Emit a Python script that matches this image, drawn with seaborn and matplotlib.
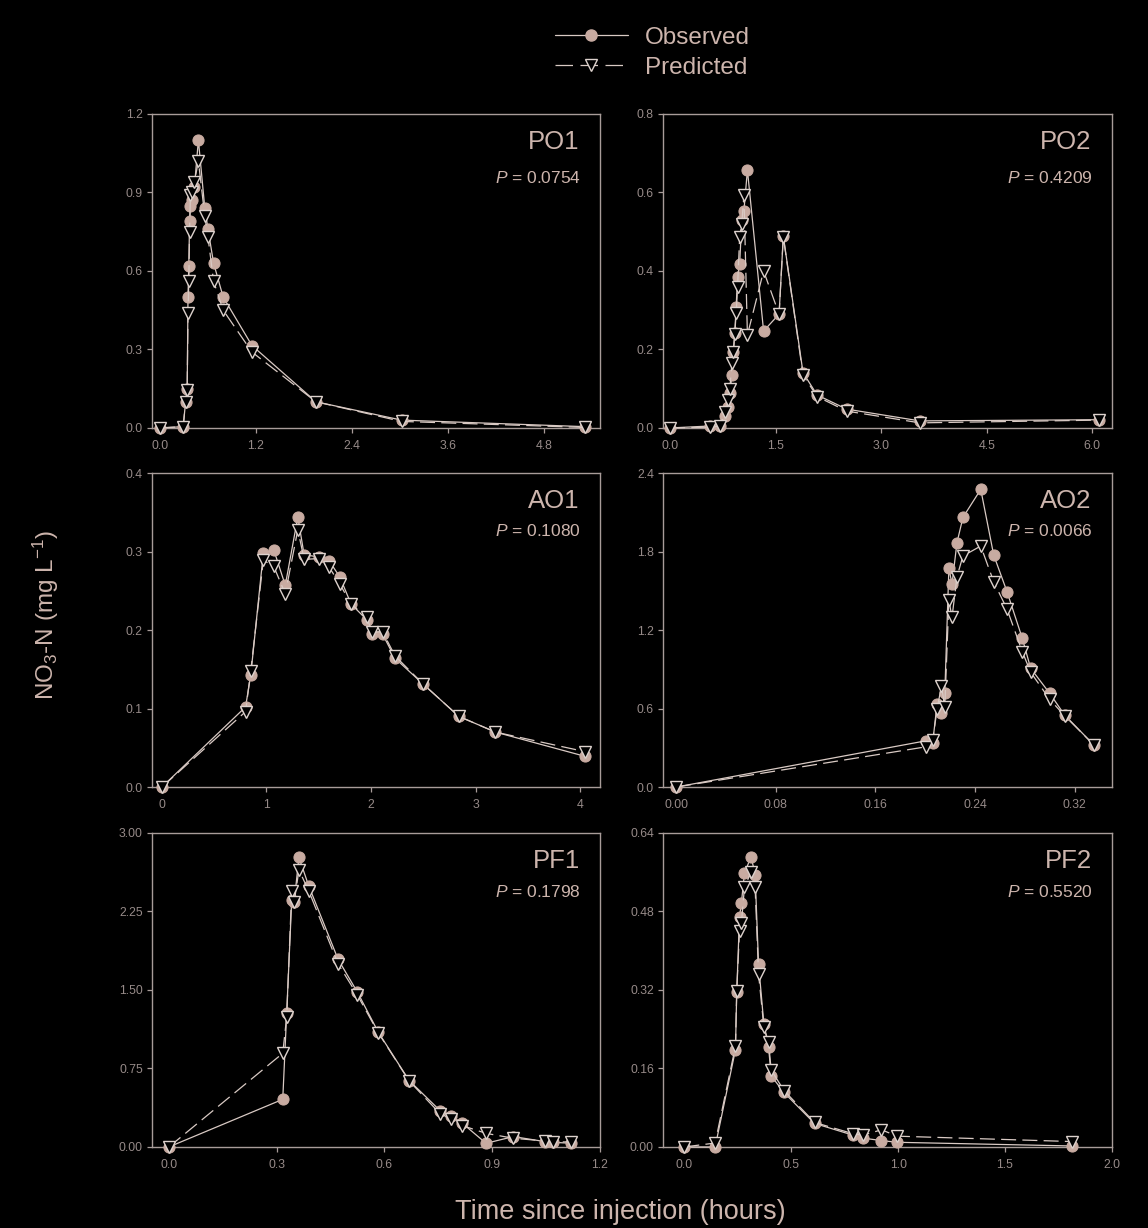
import numpy as np
import pandas as pd
import seaborn as sns
import matplotlib.pyplot as plt
from matplotlib.lines import Line2D
from matplotlib.ticker import FormatStrFormatter

# values (time in hours, NO3-N in mg/L)
po1_t = [0, 0.29, 0.32, 0.34, 0.35, 0.36, 0.37, 0.38, 0.40, 0.43, 0.48, 0.56, 0.60, 0.67, 0.79, 1.15, 1.95, 3.02, 5.31]
po1_obs = [0, 0.005, 0.10, 0.15, 0.50, 0.62, 0.79, 0.85, 0.87, 0.92, 1.10, 0.84, 0.76, 0.63, 0.50, 0.315, 0.10, 0.03, 0.005]
po1_pred = [0, 0.005, 0.10, 0.145, 0.44, 0.56, 0.75, 0.89, 0.90, 0.94, 1.02, 0.81, 0.73, 0.56, 0.45, 0.29, 0.10, 0.025, 0.002]

po2_t = [0, 0.57, 0.71, 0.78, 0.83, 0.85, 0.88, 0.90, 0.92, 0.94, 0.96, 0.99, 1.02, 1.05, 1.10, 1.33, 1.55, 1.61, 1.89, 2.09, 2.51, 3.55, 6.10]
po2_obs = [0, 0.005, 0.005, 0.03, 0.054, 0.088, 0.135, 0.194, 0.241, 0.309, 0.385, 0.418, 0.53, 0.553, 0.657, 0.247, 0.29, 0.489, 0.141, 0.084, 0.048, 0.018, 0.021]
po2_pred = [0, 0.002, 0.005, 0.04, 0.07, 0.10, 0.166, 0.194, 0.24, 0.292, 0.36, 0.487, 0.52, 0.594, 0.237, 0.40, 0.29, 0.487, 0.135, 0.08, 0.043, 0.013, 0.02]

ao1_t = [0, 0.80, 0.85, 0.97, 1.07, 1.18, 1.30, 1.36, 1.50, 1.60, 1.70, 1.81, 1.96, 2.01, 2.11, 2.23, 2.50, 2.84, 3.19, 4.05]
ao1_obs = [0, 0.102, 0.143, 0.298, 0.302, 0.257, 0.344, 0.296, 0.293, 0.288, 0.268, 0.233, 0.213, 0.195, 0.195, 0.164, 0.131, 0.09, 0.07, 0.039]
ao1_pred = [0, 0.096, 0.148, 0.289, 0.281, 0.246, 0.328, 0.290, 0.291, 0.280, 0.259, 0.233, 0.216, 0.197, 0.198, 0.167, 0.131, 0.09, 0.07, 0.045]

ao2_t = [0, 0.201, 0.206, 0.2095, 0.213, 0.2157, 0.219, 0.2215, 0.2255, 0.2303, 0.2446, 0.255, 0.2657, 0.278, 0.2847, 0.300, 0.312, 0.3355]
ao2_obs = [0, 0.354, 0.34, 0.634, 0.563, 0.716, 1.672, 1.552, 1.868, 2.061, 2.275, 1.773, 1.493, 1.136, 0.907, 0.716, 0.55, 0.321]
ao2_pred = [0, 0.308, 0.359, 0.594, 0.772, 0.614, 1.429, 1.297, 1.608, 1.766, 1.842, 1.569, 1.36, 1.034, 0.877, 0.67, 0.545, 0.321]

pf1_t = [0, 0.317, 0.328, 0.342, 0.349, 0.362, 0.389, 0.471, 0.525, 0.583, 0.669, 0.755, 0.785, 0.817, 0.883, 0.959, 1.047, 1.069, 1.119]
pf1_obs = [0, 0.455, 1.283, 2.36, 2.344, 2.767, 2.497, 1.793, 1.478, 1.096, 0.634, 0.347, 0.299, 0.226, 0.035, 0.099, 0.051, 0.045, 0.035]
pf1_pred = [0, 0.895, 1.245, 2.449, 2.344, 2.646, 2.45, 1.75, 1.45, 1.09, 0.63, 0.318, 0.27, 0.204, 0.13, 0.083, 0.057, 0.045, 0.05]

pf2_t = [0, 0.144, 0.239, 0.245, 0.258, 0.267, 0.281, 0.3125, 0.331, 0.347, 0.372, 0.394, 0.406, 0.466, 0.609, 0.789, 0.836, 0.922, 0.995, 1.813]
pf2_obs = [0, 0.0, 0.198, 0.315, 0.469, 0.498, 0.558, 0.592, 0.554, 0.373, 0.25, 0.203, 0.145, 0.111, 0.048, 0.024, 0.018, 0.013, 0.0095, 0.002]
pf2_pred = [0, 0.008, 0.205, 0.318, 0.441, 0.456, 0.529, 0.561, 0.529, 0.353, 0.244, 0.213, 0.157, 0.115, 0.05, 0.027, 0.024, 0.035, 0.022, 0.011]

names = ["PO1", "PO2", "AO1", "AO2", "PF1", "PF2"]
p_values = ["0.0754", "0.4209", "0.1080", "0.0066", "0.1798", "0.5520"]

sns.set_style("dark", {"axes.facecolor": "black", "figure.facecolor": "black"})
plt.rcParams['font.family'] = ['Liberation Sans', 'DejaVu Sans']
plt.rcParams['mathtext.fontset'] = 'custom'
plt.rcParams['mathtext.rm'] = 'Liberation Sans'
plt.rcParams['mathtext.it'] = 'Liberation Sans:italic'
plt.rcParams['mathtext.default'] = 'regular'

dot_col = "#c8aba1"
line_col = "#d9cac4"
tri_col = "#ddd2cd"
spine_col = "#a89c99"
tick_col = "#968a88"
text_col = "#cdb5ad"

fig = plt.figure(figsize=(11.48, 12.28), dpi=100, facecolor="black")

lefts = [0.1324, 0.5775]
widths = [0.3902, 0.3911]
bottoms = [0.6515, 0.3591, 0.0660]
height = 0.2557

panels = [
    (po1_t, po1_obs, po1_pred, (-0.1, 5.5), (0, 1.2), [0, 1.2, 2.4, 3.6, 4.8], np.arange(0, 1.21, 0.3), "%.1f", "%.1f", 0.797),
    (po2_t, po2_obs, po2_pred, (-0.1, 6.28), (0, 0.8), [0, 1.5, 3.0, 4.5, 6.0], np.arange(0, 0.81, 0.2), "%.1f", "%.1f", 0.797),
    (ao1_t, ao1_obs, ao1_pred, (-0.095, 4.19), (0, 0.4), [0, 1, 2, 3, 4], np.arange(0, 0.41, 0.1), "%d", "%.1f", 0.816),
    (ao2_t, ao2_obs, ao2_pred, (-0.0107, 0.35), (0, 2.4), [0, 0.08, 0.16, 0.24, 0.32], np.arange(0, 2.41, 0.6), "%.2f", "%.1f", 0.816),
    (pf1_t, pf1_obs, pf1_pred, (-0.047, 1.2), (0, 3.0), [0, 0.3, 0.6, 0.9, 1.2], np.arange(0, 3.01, 0.75), "%.1f", "%.2f", 0.813),
    (pf2_t, pf2_obs, pf2_pred, (-0.1, 2.0), (0, 0.64), [0, 0.5, 1.0, 1.5, 2.0], np.arange(0, 0.641, 0.16), "%.1f", "%.2f", 0.813),
]

for i, (t, obs, pred, xl, yl, xt, yt, xf, yf, py) in enumerate(panels):
    row, col = i // 2, i % 2
    ax = fig.add_axes([lefts[col], bottoms[row], widths[col], height])
    ax.set_facecolor("black")

    sns.lineplot(x=t, y=obs, ax=ax, color=line_col, lw=0.9, marker="o", markersize=8,
                 markerfacecolor=dot_col, markeredgecolor=dot_col, estimator=None, sort=False,
                 clip_on=False, zorder=3)
    sns.lineplot(x=t, y=pred, ax=ax, color=line_col, lw=0.9, linestyle=(0, (12, 5)), marker="v",
                 markersize=8.2, markerfacecolor="black", markeredgecolor=tri_col, markeredgewidth=1.0,
                 estimator=None, sort=False, clip_on=False, zorder=4)

    ax.set_xlim(*xl)
    ax.set_ylim(*yl)
    ax.set_xticks(xt)
    ax.set_yticks(yt)
    ax.xaxis.set_major_formatter(FormatStrFormatter(xf))
    ax.yaxis.set_major_formatter(FormatStrFormatter(yf))
    ax.tick_params(axis="both", which="major", direction="out", length=3.5, width=0.9,
                   color=spine_col, labelcolor=tick_col, labelsize=8.8, bottom=True, left=True)
    ax.tick_params(axis="x", pad=5)
    ax.tick_params(axis="y", pad=3)
    for s in ax.spines.values():
        s.set_visible(True)
        s.set_color(spine_col)
        s.set_linewidth(1.0)
    ax.grid(False)
    ax.set_xlabel("")
    ax.set_ylabel("")

    ax.text(0.955, 0.912, names[i], transform=ax.transAxes, ha="right", va="center",
            fontsize=18.5, color=text_col)
    ax.text(0.958, py, r"$\mathit{P}$ = " + p_values[i], transform=ax.transAxes, ha="right",
            va="center", fontsize=12.5, color=text_col)

handles = [
    Line2D([], [], color=line_col, lw=0.9, marker="o", markersize=8,
           markerfacecolor=dot_col, markeredgecolor=dot_col),
    Line2D([], [], color=line_col, lw=0.9, linestyle=(0, (14, 6)), marker="v", markersize=8.2,
           markerfacecolor="black", markeredgecolor=tri_col),
]
fig.legend(handles, ["Observed", "Predicted"], loc="upper center", bbox_to_anchor=(0.568, 0.996),
           frameon=False, fontsize=17.5, handlelength=3.0, labelspacing=0.32, handletextpad=0.7,
           labelcolor=text_col)

fig.text(0.04, 0.499, r"NO$_3$-N (mg L$^{-1}$)", rotation=90, ha="center", va="center",
         fontsize=17.5, color=text_col)
fig.text(0.54, 0.013, "Time since injection (hours)", ha="center", va="center",
         fontsize=19.5, color=text_col)

fig.savefig("out.png", dpi=100, facecolor="black")
